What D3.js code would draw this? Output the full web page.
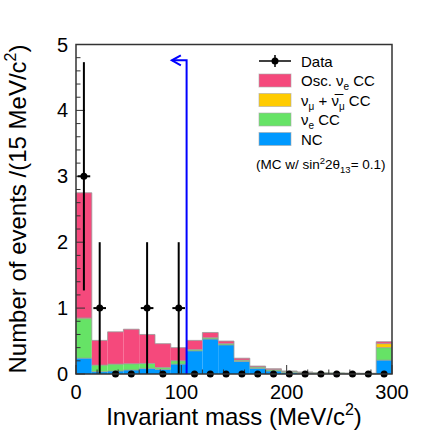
<!DOCTYPE html>
<html>
<head>
<meta charset="utf-8">
<script src="https://cdn.jsdelivr.net/npm/d3@7"></script>
<style>
  body { margin: 0; background: #fff; }
  svg text { font-family: "Liberation Sans", Arial, sans-serif; fill: #000; }
</style>
</head>
<body>
<script>
// bins of 15 MeV/c^2 from 0 to 300
var binEdges = d3.range(0, 301, 15);

// stacked MC components (bottom to top)
var ncVals    = [0.24, 0.035, 0.045, 0.06, 0.085, 0.07, 0.15, 0.35, 0.53, 0.44, 0.19, 0.085, 0.045, 0.02, 0.01, 0.008, 0.006, 0.005, 0.004, 0.21];
var nueCCVals = [0.60, 0.10, 0.105, 0.095, 0.075, 0.03, 0.05, 0.02, 0.02, 0.02, 0.02, 0.02, 0.02, 0.02, 0.015, 0.012, 0.012, 0.01, 0.008, 0.19];
var numuVals  = [0.01, 0, 0, 0, 0, 0, 0, 0, 0, 0, 0, 0, 0, 0, 0, 0, 0, 0, 0, 0.06];
var oscVals   = [1.90, 0.375, 0.49, 0.525, 0.44, 0.36, 0.20, 0.14, 0.08, 0.04, 0.03, 0.015, 0.015, 0.005, 0.005, 0, 0, 0, 0, 0.03];

// observed events per bin
var dataVals = [3, 1, 0, 0, 1, 0, 1, 0, 0, 0, 0, 0, 0, 0, 0, 0, 0, 0, 0, 0];

var cutValue = 105, cutArrowY = 4.76, cutArrowEnd = 91;

var xTicks = [0, 100, 200, 300];
var yTicks = [0, 1, 2, 3, 4, 5];

var width = 436, height = 436;
var margin = {left: 76, right: 44, top: 44.5, bottom: 62};

var svg = d3.select("body").append("svg")
    .attr("width", width)
    .attr("height", height);

var x = d3.scaleLinear().domain([0, 300]).range([margin.left, width - margin.right]);
var y = d3.scaleLinear().domain([0, 5]).range([height - margin.bottom, margin.top]);

//build stacked table
var keys = ["nc", "nueCC", "numu", "osc"];
var colors = {nc: "#0099ff", nueCC: "#66e366", numu: "#ffcc00", osc: "#f5497c"};
var table = ncVals.map(function(d, i){
    return {x0: binEdges[i], x1: binEdges[i + 1], nc: ncVals[i], nueCC: nueCCVals[i], numu: numuVals[i], osc: oscVals[i]};
});
var series = d3.stack().keys(keys)(table);

var g = svg.append("g");
series.forEach(function(s){
    g.selectAll(".bar-" + s.key)
        .data(s)
        .enter()
        .append("rect")
        .attr("x", function(d){ return x(d.data.x0); })
        .attr("width", function(d){ return x(d.data.x1) - x(d.data.x0); })
        .attr("y", function(d){ return y(d[1]); })
        .attr("height", function(d){ return y(d[0]) - y(d[1]); })
        .attr("fill", colors[s.key]);
});

//gray outline of each component (histogram steps)
series.forEach(function(s){
    g.selectAll(".top-" + s.key)
        .data(s.filter(function(d){ return d[1] - d[0] > 0.002; }))
        .enter()
        .append("line")
        .attr("x1", function(d){ return x(d.data.x0); })
        .attr("x2", function(d){ return x(d.data.x1); })
        .attr("y1", function(d){ return y(d[1]); })
        .attr("y2", function(d){ return y(d[1]); })
        .attr("stroke", "#9a9a9a")
        .attr("stroke-opacity", 0.8)
        .attr("stroke-width", 1);
});
// vertical outline of total
var tops = series[series.length - 1];
g.selectAll(".side")
    .data(d3.range(tops.length + 1))
    .enter()
    .append("line")
    .attr("x1", function(i){ return x(binEdges[i]); })
    .attr("x2", function(i){ return x(binEdges[i]); })
    .attr("y1", function(i){ return y(i < tops.length ? tops[i][1] : 0); })
    .attr("y2", function(i){ return y(i > 0 ? tops[i - 1][1] : 0); })
    .attr("stroke", "#9a9a9a")
    .attr("stroke-opacity", 0.8);

//axes ticks (inside, ROOT style)
var axisG = svg.append("g");
d3.range(0, 5.001, 0.2).forEach(function(v){
    var major = Math.abs(v - Math.round(v)) < 1e-6;
    axisG.append("line")
        .attr("x1", x(0)).attr("x2", x(0) + (major ? 9 : 4.5))
        .attr("y1", y(v)).attr("y2", y(v))
        .attr("stroke", "#333");
});
d3.range(0, 300.001, 20).forEach(function(v){
    var major = v % 100 === 0;
    axisG.append("line")
        .attr("x1", x(v)).attr("x2", x(v))
        .attr("y1", y(0)).attr("y2", y(0) - (major ? 9 : 4.5))
        .attr("stroke", "#333");
});

axisG.selectAll(".ylab")
    .data(yTicks)
    .enter()
    .append("text")
    .attr("x", 68)
    .attr("y", function(d){ return y(d) + 7; })
    .attr("text-anchor", "end")
    .style("font-size", "20px")
    .text(function(d){ return d; });

axisG.selectAll(".xlab")
    .data(xTicks)
    .enter()
    .append("text")
    .attr("x", function(d){ return x(d); })
    .attr("y", 399)
    .attr("text-anchor", "middle")
    .style("font-size", "20px")
    .text(function(d){ return d; });

//axis titles
var xt = svg.append("text")
    .attr("x", 234)
    .attr("y", 425)
    .attr("text-anchor", "middle")
    .style("font-size", "24px");
xt.append("tspan").text("Invariant mass (MeV/c");
xt.append("tspan").attr("dy", -10).style("font-size", "16px").text("2");
xt.append("tspan").attr("dy", 10).text(")");

var yt = svg.append("text")
    .attr("transform", "translate(26," + y(5) + ") rotate(-90)")
    .attr("text-anchor", "end")
    .style("font-size", "24px");
yt.append("tspan").text("Number of events /(15 MeV/c");
yt.append("tspan").attr("dy", -10).style("font-size", "16px").text("2");
yt.append("tspan").attr("dy", 10).text(")");

//cut line with arrow
svg.append("path")
    .attr("d", "M" + x(cutValue) + "," + y(0) + "V" + y(cutArrowY) + "H" + x(cutArrowEnd))
    .attr("fill", "none")
    .attr("stroke", "#0000ff")
    .attr("stroke-width", 2);
svg.append("path")
    .attr("d", "M" + (x(cutArrowEnd) + 9) + "," + (y(cutArrowY) - 5) + "L" + x(cutArrowEnd) + "," + y(cutArrowY) + "L" + (x(cutArrowEnd) + 9) + "," + (y(cutArrowY) + 5))
    .attr("fill", "none")
    .attr("stroke", "#0000ff")
    .attr("stroke-width", 2);

//data points
var pts = dataVals.map(function(v, i){ return {xc: (binEdges[i] + binEdges[i + 1]) / 2, v: v}; });
var dg = svg.append("g");
dg.selectAll(".ev")
    .data(pts.filter(function(d){ return d.v > 0; }))
    .enter()
    .append("line")
    .attr("x1", function(d){ return x(d.xc); })
    .attr("x2", function(d){ return x(d.xc); })
    .attr("y1", function(d){ return y(d.v + Math.sqrt(d.v)); })
    .attr("y2", function(d){ return y(d.v - Math.sqrt(d.v)); })
    .attr("stroke", "#000")
    .attr("stroke-width", 2);
dg.selectAll(".eh")
    .data(pts.filter(function(d){ return d.v > 0; }))
    .enter()
    .append("line")
    .attr("x1", function(d){ return x(d.xc - 6); })
    .attr("x2", function(d){ return x(d.xc + 6); })
    .attr("y1", function(d){ return y(d.v); })
    .attr("y2", function(d){ return y(d.v); })
    .attr("stroke", "#000")
    .attr("stroke-width", 2);
dg.selectAll(".pt")
    .data(pts)
    .enter()
    .append("circle")
    .attr("cx", function(d){ return x(d.xc); })
    .attr("cy", function(d){ return y(d.v); })
    .attr("r", 3.5)
    .attr("fill", "#000");

//frame
svg.append("rect")
    .attr("x", x(0)).attr("y", y(5))
    .attr("width", x(300) - x(0)).attr("height", y(0) - y(5))
    .attr("fill", "none")
    .attr("stroke", "#333")
    .attr("stroke-width", 1.5);

//legend
var lx = 259, ly = 61, rowH = 19.5;
var leg = svg.append("g");
leg.append("line").attr("x1", lx).attr("x2", lx + 32).attr("y1", ly).attr("y2", ly).attr("stroke", "#000").attr("stroke-width", 1.5);
leg.append("line").attr("x1", lx + 16).attr("x2", lx + 16).attr("y1", ly - 6).attr("y2", ly + 6).attr("stroke", "#000").attr("stroke-width", 1.5);
leg.append("circle").attr("cx", lx + 16).attr("cy", ly).attr("r", 3.5).attr("fill", "#000");
leg.append("text").attr("x", lx + 42).attr("y", ly + 5.5).style("font-size", "15px").text("Data");

var legKeys = ["osc", "numu", "nueCC", "nc"];
legKeys.forEach(function(k, i){
    var yy = ly + rowH * (i + 1);
    leg.append("rect")
        .attr("x", lx).attr("y", yy - 6.5)
        .attr("width", 32).attr("height", 13)
        .attr("fill", colors[k])
        .attr("stroke", "#aaa").attr("stroke-opacity", 0.6);
    var t = leg.append("text").attr("x", lx + 42).attr("y", yy + 5.5).style("font-size", "15px");
    if (k === "osc") {
        t.append("tspan").text("Osc. \u03bd");
        t.append("tspan").attr("dy", 4).style("font-size", "10px").text("e");
        t.append("tspan").attr("dy", -4).text(" CC");
    } else if (k === "numu") {
        t.append("tspan").text("\u03bd");
        t.append("tspan").attr("dy", 4).style("font-size", "10px").text("\u03bc");
        t.append("tspan").attr("dy", -4).text(" + ");
        t.append("tspan").text("\u03bd\u0305");
        t.append("tspan").attr("dy", 4).style("font-size", "10px").text("\u03bc");
        t.append("tspan").attr("dy", -4).text(" CC");
    } else if (k === "nueCC") {
        t.append("tspan").text("\u03bd");
        t.append("tspan").attr("dy", 4).style("font-size", "10px").text("e");
        t.append("tspan").attr("dy", -4).text(" CC");
    } else {
        t.text("NC");
    }
});

var note = leg.append("text").attr("x", lx - 3).attr("y", 169).style("font-size", "13.5px");
note.append("tspan").text("(MC w/ sin");
note.append("tspan").attr("dy", -5).style("font-size", "9.5px").text("2");
note.append("tspan").attr("dy", 5).text("2\u03b8");
note.append("tspan").attr("dy", 3.5).style("font-size", "9.5px").text("13");
note.append("tspan").attr("dy", -3.5).text("= 0.1)");
</script>
</body>
</html>
